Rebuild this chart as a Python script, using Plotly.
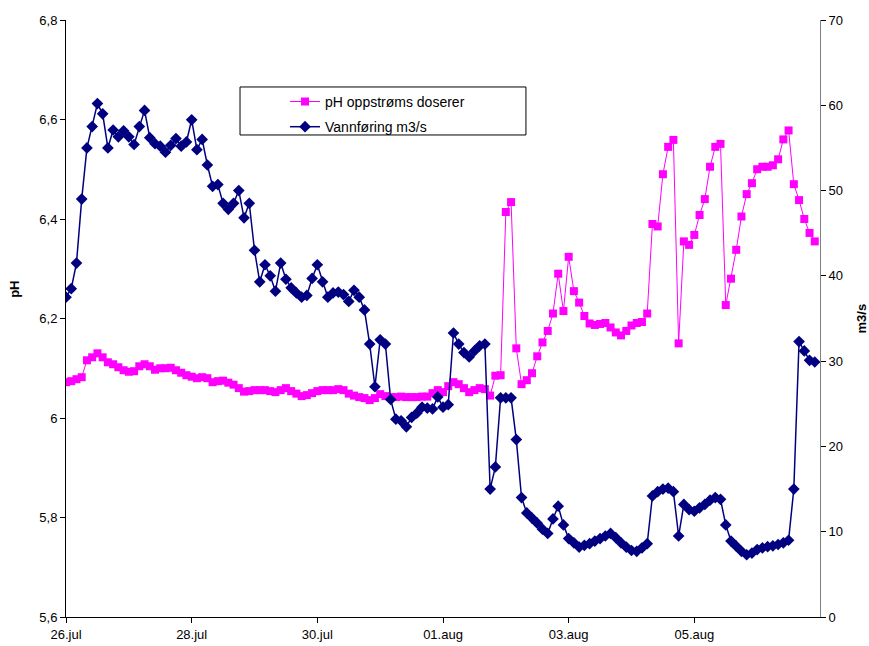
import pandas as pd
import plotly.graph_objects as go

# 2-hourly readings from 26.jul 00:00
start = "2008-07-26 00:00"
step = "2h"

ph_values = [
    6.072, 6.074, 6.078, 6.082, 6.116, 6.122, 6.130, 6.122, 6.112, 6.108,
    6.102, 6.096, 6.093, 6.094, 6.104, 6.108, 6.104, 6.097, 6.100, 6.100,
    6.101, 6.096, 6.091, 6.086, 6.083, 6.080, 6.082, 6.080, 6.072, 6.074,
    6.075, 6.071, 6.067, 6.060, 6.053, 6.054, 6.056, 6.056, 6.056, 6.054,
    6.052, 6.056, 6.060, 6.054, 6.049, 6.044, 6.046, 6.050, 6.054, 6.056,
    6.056, 6.056, 6.058, 6.056, 6.049, 6.045, 6.042, 6.040, 6.036, 6.040,
    6.048, 6.044, 6.042, 6.042, 6.043, 6.042, 6.042, 6.042, 6.043, 6.043,
    6.050, 6.056, 6.052, 6.064, 6.072, 6.068, 6.060, 6.052, 6.056, 6.060,
    6.058, 6.045, 6.085, 6.086, 6.414, 6.434, 6.140, 6.068, 6.076, 6.090,
    6.124, 6.152, 6.175, 6.210, 6.290, 6.215, 6.324, 6.255, 6.232, 6.205,
    6.190, 6.187, 6.189, 6.191, 6.182, 6.172, 6.166, 6.175, 6.186, 6.191,
    6.193, 6.210, 6.390, 6.385, 6.490, 6.545, 6.559, 6.150, 6.355, 6.348,
    6.368, 6.408, 6.440, 6.505, 6.545, 6.551, 6.227, 6.280, 6.338, 6.405,
    6.450, 6.472, 6.500, 6.505, 6.505, 6.508, 6.520, 6.560, 6.578, 6.470,
    6.438, 6.400, 6.372, 6.355,
]

flow_values = [
    37.5, 38.5, 41.5, 49.0, 55.0, 57.5, 60.2, 59.0, 55.0, 57.1,
    56.3, 57.0, 56.3, 55.4, 57.5, 59.4, 56.2, 55.5, 55.2, 54.5,
    55.3, 56.1, 55.2, 55.7, 58.3, 54.8, 56.0, 53.0, 50.5, 50.7,
    48.5, 47.8, 48.5, 50.0, 46.8, 48.5, 43.0, 39.3, 41.3, 40.0,
    38.2, 41.5, 39.6, 38.6, 38.0, 37.5, 37.7, 39.7, 41.3, 39.3,
    37.5, 38.0, 38.1, 37.8, 37.0, 38.3, 37.5, 36.0, 32.0, 27.0,
    32.5, 32.0, 25.5, 23.2, 23.0, 22.3, 23.4, 23.9, 24.6, 24.5,
    24.4, 25.8, 24.6, 24.9, 33.3, 32.0, 31.0, 30.5, 31.2, 31.8,
    32.0, 15.0, 17.6, 25.7, 25.7, 25.7, 20.8, 14.0, 12.2, 11.6,
    11.0, 10.3, 9.8, 11.5, 13.0, 10.8, 9.2, 8.7, 8.2, 8.4,
    8.6, 8.9, 9.2, 9.5, 9.8, 9.3, 8.7, 8.2, 7.8, 7.7,
    8.1, 8.6, 14.2, 14.7, 15.0, 15.1, 14.7, 9.5, 13.2, 12.6,
    12.4, 12.8, 13.2, 13.7, 14.0, 13.8, 10.8, 8.9, 8.3, 7.7,
    7.3, 7.5, 7.9, 8.1, 8.25, 8.35, 8.5, 8.7, 9.0, 15.0,
    32.3, 31.2, 30.1, 29.9,
]

tick_dates = ["2008-07-26", "2008-07-28", "2008-07-30", "2008-08-01", "2008-08-03", "2008-08-05"]
tick_labels = ["26.jul", "28.jul", "30.jul", "01.aug", "03.aug", "05.aug"]

series_names = ["pH oppstrøms doserer", "Vannføring m3/s"]

times = pd.date_range(start, periods=len(ph_values), freq=step)

fig = go.Figure()
fig.add_trace(go.Scatter(
    x=times, y=ph_values, name=series_names[0], mode="lines+markers",
    line=dict(color="#FF00FF", width=1),
    marker=dict(symbol="square", size=8, color="#FF00FF"),
    legendgroup="a", yaxis="y",
))
fig.add_trace(go.Scatter(
    x=times, y=flow_values, name=series_names[1], mode="lines+markers",
    line=dict(color="#000080", width=1.5),
    marker=dict(symbol="diamond", size=9, color="#000080"),
    legendgroup="b", yaxis="y2",
))

fig.update_layout(
    template="none",
    width=869, height=646, autosize=False,
    margin=dict(l=66, r=49, t=20, b=29, pad=0),
    plot_bgcolor="white", paper_bgcolor="white",
    separators=",.",
    font=dict(family="Liberation Sans, Arial, sans-serif", size=13, color="black"),
    showlegend=True,
    legend=dict(
        x=0.2905, y=0.8896, xanchor="left", yanchor="top",
        bgcolor="rgba(0,0,0,0)", borderwidth=0,
        font=dict(size=14), tracegroupgap=4,
    ),
    xaxis=dict(
        type="date", range=["2008-07-26", "2008-08-07"],
        tickvals=tick_dates, ticktext=tick_labels,
        ticks="outside", ticklen=5, tickcolor="black",
        showline=True, linecolor="black", linewidth=1,
        showgrid=False, zeroline=False, automargin=False,
        tickfont=dict(size=13),
    ),
    yaxis=dict(
        range=[5.6, 6.8], tick0=5.6, dtick=0.2,
        ticks="outside", ticklen=5, tickcolor="black",
        showline=True, linecolor="black", linewidth=1,
        showgrid=False, zeroline=False, automargin=False,
        tickfont=dict(size=13),
    ),
    yaxis2=dict(
        range=[0, 70], tick0=0, dtick=10, overlaying="y", side="right",
        ticks="outside", ticklen=5, tickcolor="black",
        showline=True, linecolor="#808080", linewidth=1,
        showgrid=False, zeroline=False, automargin=False,
        tickfont=dict(size=13),
    ),
    shapes=[dict(
        type="rect", xref="paper", yref="paper",
        x0=0.2308, x1=0.610, y0=0.8074, y1=0.8878,
        line=dict(color="black", width=1), fillcolor="rgba(0,0,0,0)",
    )],
    annotations=[
        dict(text="<b>pH</b>", xref="paper", yref="paper", x=-0.0676, y=0.548,
             xanchor="center", yanchor="middle",
             textangle=-90, showarrow=False, font=dict(size=13)),
        dict(text="<b>m3/s</b>", xref="paper", yref="paper", x=1.0557, y=0.5,
             xanchor="center", yanchor="middle",
             textangle=-90, showarrow=False, font=dict(size=13)),
    ],
)

fig.write_html(
    "out.html",
    config={"displayModeBar": False},
    post_script="document.body.style.margin='0';document.body.style.overflow='hidden';",
)
